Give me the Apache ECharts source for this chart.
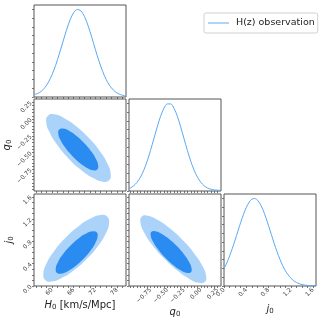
<!DOCTYPE html>
<html>
<head>
<meta charset="utf-8">
<script src="https://cdn.jsdelivr.net/npm/echarts@6/dist/echarts.min.js"></script>
<style>html,body{margin:0;padding:0;background:#fff}#c{width:325px;height:320px}</style>
</head>
<body>
<div id="c"></div>
<script>
// ---- tick labels ----
const h0Ticks = [60, 66, 72, 78];
const q0Ticks = [-0.75, -0.5, -0.25, 0, 0.25];
const j0Ticks = [0, 0.4, 0.8, 1.2, 1.6];
const h0Minor = [55.5,57,58.5,60,61.5,63,64.5,66,67.5,69,70.5,72,73.5,75,76.5,78,79.5];
const q0Minor = [-1.05,-1,-0.95,-0.9,-0.85,-0.8,-0.75,-0.7,-0.65,-0.6,-0.55,-0.5,-0.45,-0.4,-0.35,-0.3,-0.25,-0.2,-0.15,-0.1,-0.05,0,0.05,0.1,0.15,0.2,0.25];
const j0Minor = [0,0.1,0.2,0.3,0.4,0.5,0.6,0.7,0.8,0.9,1.0,1.1,1.2,1.3,1.4,1.5,1.6];
const pdfMinor = [0,0.1,0.2,0.3,0.4,0.5,0.6,0.7,0.8,0.9,1.0];

// ---- 1D marginal curves ----
const h0Grid = [55,56,57,58,59,60,61,62,63,64,65,66,67,68,69,70,71,72,73,74,75,76,77,78,79,80,80.5];
const h0Pdf  = [0.028,0.040,0.064,0.106,0.169,0.254,0.362,0.490,0.627,0.763,0.880,0.963,0.999,0.983,0.918,0.813,0.683,0.544,0.411,0.295,0.200,0.129,0.079,0.046,0.027,0.016,0.012];

const q0Grid = [-1.07,-1.05,-1.0,-0.95,-0.9,-0.85,-0.8,-0.75,-0.7,-0.65,-0.6,-0.55,-0.5,-0.45,-0.4,-0.35,-0.3,-0.25,-0.2,-0.15,-0.1,-0.05,0,0.05,0.1,0.15,0.2,0.25,0.3];
const q0Pdf  = [0.028,0.034,0.059,0.099,0.157,0.237,0.339,0.461,0.596,0.731,0.852,0.944,0.994,0.994,0.944,0.852,0.731,0.596,0.461,0.339,0.237,0.157,0.099,0.059,0.034,0.020,0.012,0.009,0.008];

const j0Grid = [0,0.05,0.1,0.15,0.2,0.25,0.3,0.35,0.4,0.45,0.5,0.55,0.6,0.65,0.7,0.75,0.8,0.85,0.9,0.95,1.0,1.05,1.1,1.15,1.2,1.25,1.3,1.35,1.4,1.45,1.5,1.55,1.6,1.65];
const j0Pdf  = [0.198,0.263,0.341,0.430,0.526,0.627,0.726,0.818,0.897,0.956,0.991,0.999,0.980,0.935,0.868,0.783,0.687,0.586,0.487,0.393,0.309,0.236,0.175,0.127,0.089,0.061,0.040,0.026,0.016,0.010,0.006,0.004,0.002,0.001];

// ---- 2D contours (outer = 95%, inner = 68%) ----
const h0q0Outer = [[75.81,-0.911],[74.05,-0.931],[71.27,-0.874],[67.90,-0.750],[64.43,-0.577],[61.41,-0.381],[59.29,-0.193],[58.39,-0.041],[58.86,0.052],[60.62,0.073],[63.40,0.015],[66.77,-0.109],[70.23,-0.282],[73.26,-0.477],[75.38,-0.665],[76.28,-0.818]];
const h0q0Inner = [[72.51,-0.750],[71.43,-0.762],[69.72,-0.726],[67.63,-0.649],[65.48,-0.541],[63.60,-0.420],[62.28,-0.304],[61.72,-0.210],[62.00,-0.153],[63.07,-0.141],[64.79,-0.177],[66.88,-0.254],[69.02,-0.362],[70.90,-0.483],[72.22,-0.599],[72.79,-0.693]];
const h0j0Outer = [[75.32,1.243],[75.80,1.127],[74.89,0.943],[72.74,0.719],[69.66,0.488],[66.14,0.285],[62.69,0.142],[59.86,0.080],[58.07,0.109],[57.59,0.225],[58.50,0.409],[60.66,0.633],[63.74,0.864],[67.26,1.067],[70.70,1.210],[73.53,1.273]];
const h0j0Inner = [[72.35,0.963],[72.64,0.891],[72.03,0.775],[70.65,0.632],[68.67,0.484],[66.42,0.354],[64.23,0.261],[62.44,0.221],[61.32,0.238],[61.03,0.310],[61.64,0.428],[63.02,0.570],[65.00,0.717],[67.25,0.847],[69.44,0.940],[71.23,0.980]];
const q0j0Outer = [[0.061,0.076],[-0.028,0.058],[-0.175,0.132],[-0.359,0.286],[-0.549,0.497],[-0.720,0.733],[-0.842,0.957],[-0.899,1.137],[-0.882,1.244],[-0.794,1.262],[-0.646,1.188],[-0.463,1.034],[-0.272,0.823],[-0.102,0.587],[0.021,0.363],[0.078,0.183]];
const q0j0Inner = [[-0.149,0.247],[-0.205,0.235],[-0.297,0.280],[-0.411,0.376],[-0.530,0.507],[-0.635,0.654],[-0.711,0.793],[-0.746,0.905],[-0.735,0.972],[-0.679,0.984],[-0.587,0.939],[-0.473,0.844],[-0.354,0.712],[-0.249,0.566],[-0.173,0.426],[-0.138,0.314]];

const seriesName = 'H(z) observation';

// ---- styling / layout ----
const FONT = 'DejaVu Sans';
const LINE = '#5aa8f2', LIGHT = '#abd3f9', DARK = '#2a8cf0';
const PX = [34, 129, 224], PY = [5, 99, 194], S = 92;
const H0R = [55, 80.5], Q0R = [-1.07, 0.30], J0R = [0, 1.65], PDFR = [0, 1.05];

function zip(xs, ys) { return xs.map((x, i) => [x, ys[i]]); }
function fmtQ(v) { return (v < 0 ? '\u2212' : '') + Math.abs(v).toFixed(2); }
function fmtJ(v) { return v.toFixed(1); }
function fmtH(v) { return String(Math.round(v)); }

const grids = [[0,0],[0,1],[0,2],[1,1],[1,2],[2,2]].map(([c, r]) => ({
  left: PX[c], top: PY[r], width: S, height: S,
  show: true, borderColor: '#555', borderWidth: 1, backgroundColor: 'transparent'
}));

const rich = {
  i: {fontStyle: 'italic', fontSize: 10, fontFamily: FONT, color: '#222'},
  s: {fontSize: 7, fontFamily: FONT, color: '#222', verticalAlign: 'bottom', padding: [4, 0, 0, 0]},
  t: {fontSize: 10, fontFamily: FONT, color: '#222'}
};

function axis(gi, range, ticks, minor, fmt, name, gap, isY) {
  const a = {
    type: 'value', gridIndex: gi, min: range[0], max: range[1], scale: true,
    position: isY ? 'left' : 'bottom',
    splitLine: {show: false}, axisLine: {show: false, onZero: false},
    axisTick: {show: true, inside: false, length: 2, customValues: minor, lineStyle: {color: '#555', width: 0.8}},
    axisLabel: {show: !!fmt, customValues: ticks, rotate: 45, fontSize: 6, fontFamily: FONT, color: '#444', margin: 3,
                formatter: fmt || (() => ''), showMinLabel: true, showMaxLabel: true}
  };
  if (name) {
    a.name = name; a.nameLocation = 'middle'; a.nameGap = gap;
    a.nameTextStyle = {rich: rich};
    if (isY) a.nameRotate = 90;
  }
  return a;
}

const xAxis = [
  axis(0, H0R, h0Ticks, h0Minor, null),
  axis(1, H0R, h0Ticks, h0Minor, null),
  axis(2, H0R, h0Ticks, h0Minor, fmtH, '{i|H}{s|0}{t| [km/s/Mpc]}', 14),
  axis(3, Q0R, q0Ticks, q0Minor, null),
  axis(4, Q0R, q0Ticks, q0Minor, fmtQ, '{i|q}{s|0}', 20),
  axis(5, J0R, j0Ticks, j0Minor, fmtJ, '{i|j}{s|0}', 18)
];
const yAxis = [
  axis(0, PDFR, null, pdfMinor, null, null, 0, true),
  axis(1, Q0R, q0Ticks, q0Minor, fmtQ, '{i|q}{s|0}', 19, true),
  axis(2, J0R, j0Ticks, j0Minor, fmtJ, '{i|j}{s|0}', 19, true),
  axis(3, PDFR, null, pdfMinor, null, null, 0, true),
  axis(4, J0R, j0Ticks, j0Minor, null, null, 0, true),
  axis(5, PDFR, null, pdfMinor, null, null, 0, true)
];

function contour(gi, pts, color, nm) {
  return {
    type: 'custom', name: nm, xAxisIndex: gi, yAxisIndex: gi, silent: true, clip: true,
    data: [pts[0]],
    renderItem: function (params, api) {
      return {type: 'polygon', shape: {points: pts.map(p => api.coord(p)), smooth: 0.5},
              style: {fill: color, stroke: null}};
    }
  };
}
function curve(gi, xs, ys) {
  return {type: 'line', name: seriesName, xAxisIndex: gi, yAxisIndex: gi, data: zip(xs, ys),
          symbol: 'none', showSymbol: false, smooth: 0.3, silent: true,
          lineStyle: {color: LINE, width: 1}, itemStyle: {color: LINE}};
}

const series = [
  curve(0, h0Grid, h0Pdf),
  contour(1, h0q0Outer, LIGHT, 'c1o'), contour(1, h0q0Inner, DARK, 'c1i'),
  contour(2, h0j0Outer, LIGHT, 'c2o'), contour(2, h0j0Inner, DARK, 'c2i'),
  curve(3, q0Grid, q0Pdf),
  contour(4, q0j0Outer, LIGHT, 'c3o'), contour(4, q0j0Inner, DARK, 'c3i'),
  curve(5, j0Grid, j0Pdf)
];

const chart = echarts.init(document.getElementById('c'), null, {renderer: 'canvas'});
chart.setOption({
  animation: false,
  backgroundColor: '#fff',
  legend: {
    data: [{name: seriesName, icon: 'rect'}], left: 204, top: 13, orient: 'vertical',
    borderColor: '#d0d0d0', borderWidth: 1, borderRadius: 2, padding: [5, 3, 5, 4],
    itemWidth: 21, itemHeight: 1, itemGap: 0,
    itemStyle: {color: LINE, borderWidth: 0},
    textStyle: {fontSize: 9.5, fontFamily: FONT, color: '#222', padding: [0, 0, 0, 2]}
  },
  grid: grids, xAxis: xAxis, yAxis: yAxis, series: series
});
</script>
</body>
</html>
